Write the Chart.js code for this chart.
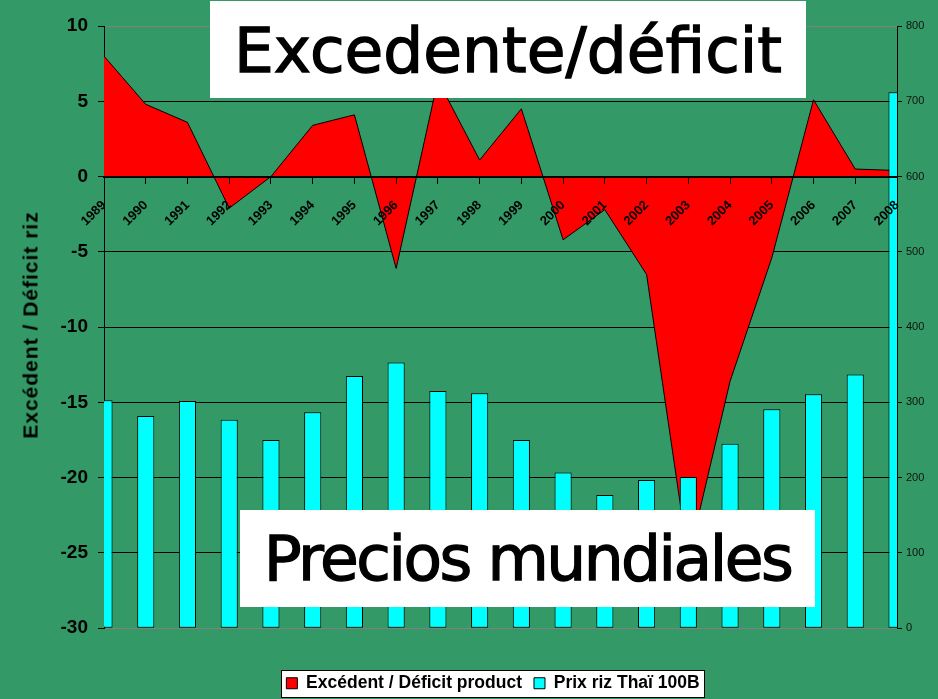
<!DOCTYPE html>
<html>
<head>
<meta charset="utf-8">
<script src="https://cdn.jsdelivr.net/npm/chart.js@4.4.1/dist/chart.umd.min.js"></script>
<style>
    html, body { margin: 0; padding: 0; background: #339966; }
    #wrap { position: relative; width: 938px; height: 699px; overflow: hidden; }
    #rice-chart { position: absolute; left: 0; top: 0; }
    .banner {
        position: absolute;
        background: #fff;
        display: flex;
        align-items: center;
        justify-content: center;
        font-family: "DejaVu Sans", sans-serif;
        font-size: 63px;
        line-height: 1;
        color: #000;
        -webkit-text-stroke: 1.3px #000;
        white-space: nowrap;
    }
    #banner-top { left: 210px; top: 1px; width: 596px; height: 97px; padding-top: 1px; box-sizing: border-box; }
    #banner-bottom { left: 240px; top: 510px; width: 575px; height: 97px; letter-spacing: -2.5px; }
    #y-title {
        position: absolute;
        left: 29.5px;
        top: 325px;
        transform: translate(-50%, -50%) rotate(-90deg);
        font-family: Arial, "Liberation Sans", sans-serif;
        font-weight: bold;
        font-size: 21px;
        line-height: 1;
        letter-spacing: 1px;
        color: #000;
        white-space: nowrap;
    }
</style>
</head>
<body>
<div id="wrap">
    <canvas id="rice-chart" width="938" height="699"></canvas>
    <div id="y-title">Excédent / Déficit riz</div>
    <div class="banner" id="banner-top">Excedente/déficit</div>
    <div class="banner" id="banner-bottom">Precios mundiales</div>
</div>
<script>
const years = ['1989', '1990', '1991', '1992', '1993', '1994', '1995', '1996', '1997', '1998',
    '1999', '2000', '2001', '2002', '2003', '2004', '2005', '2006', '2007', '2008'];

// excédent / déficit (axe gauche)
const surplusDeficit = [8.0, 4.8, 3.6, -2.1, 0.0, 3.4, 4.1, -6.1, 6.4, 1.1,
    4.5, -4.2, -2.2, -6.5, -25.4, -13.6, -5.4, 5.1, 0.5, 0.4];

// prix riz thaï (axe droit)
const thaiRicePrice = [303, 282, 302, 277, 250, 287, 335, 353, 315, 312,
    250, 207, 177, 197, 201, 245, 291, 311, 337, 712];

const leftAxisRange = [-30, 10];
const leftAxisStep = 5;
const rightAxisRange = [0, 800];
const rightAxisStep = 100;

const seriesNames = ['Excédent / Déficit product', 'Prix riz Thaï 100B'];

Chart.defaults.font.family = 'Arial, "Liberation Sans", sans-serif';
Chart.defaults.color = '#000';

const legendFrame = {
    id: 'legendFrame',
    beforeDraw(chart) {
        const boxes = chart.legend.legendHitBoxes;
        if (!boxes || !boxes.length) return;
        const first = boxes[0];
        const last = boxes[boxes.length - 1];
        const x0 = Math.round(first.left - 5) + 0.5;
        const x1 = Math.round(last.left + last.width + 4) + 0.5;
        const y0 = Math.round(first.top - 5) + 0.5;
        const y1 = Math.round(first.top + first.height + 5) + 0.5;
        const ctx = chart.ctx;
        ctx.save();
        ctx.fillStyle = '#fff';
        ctx.fillRect(x0, y0, x1 - x0, y1 - y0);
        ctx.strokeStyle = '#000';
        ctx.lineWidth = 1;
        ctx.strokeRect(x0, y0, x1 - x0, y1 - y0);
        ctx.restore();
    }
};

const ctx = document.getElementById('rice-chart').getContext('2d');

const riceChart = new Chart(ctx, {
    type: 'bar',
    data: {
        labels: years,
        datasets: [{
            type: 'line',
            label: seriesNames[0],
            data: surplusDeficit,
            yAxisID: 'y',
            order: 1,
            fill: 'origin',
            backgroundColor: '#ff0000',
            borderColor: '#000',
            borderWidth: 1,
            tension: 0,
            pointRadius: 0
        }, {
            type: 'bar',
            label: seriesNames[1],
            data: thaiRicePrice,
            yAxisID: 'y1',
            order: 0,
            backgroundColor: '#00ffff',
            borderColor: '#000',
            borderWidth: 1,
            borderSkipped: false,
            categoryPercentage: 1,
            barPercentage: 0.41,
            clip: 0
        }]
    },
    options: {
        responsive: false,
        animation: false,
        layout: {
            padding: { top: 26, left: 48, right: 0, bottom: -3 }
        },
        scales: {
            x: {
                type: 'category',
                position: { y: 0 },
                offset: false,
                grid: {
                    offset: false,
                    drawOnChartArea: false,
                    drawTicks: true,
                    tickLength: 6,
                    color: '#000',
                    z: 1
                },
                border: { display: true, color: '#000', width: 2, z: 1 },
                ticks: {
                    autoSkip: false,
                    minRotation: 45,
                    maxRotation: 45,
                    padding: 15,
                    color: '#000',
                    font: { size: 13, weight: 'bold' },
                    z: 1
                }
            },
            y: {
                position: 'left',
                min: leftAxisRange[0],
                max: leftAxisRange[1],
                afterFit(scale) { scale.width = 56; },
                grid: {
                    color: (c) => (c.tick && (c.tick.value === leftAxisRange[0] || c.tick.value === leftAxisRange[1])) ? '#808080' : '#000',
                    tickColor: '#000',
                    tickLength: 6,
                    lineWidth: 1
                },
                border: { display: true, color: '#000', width: 1 },
                ticks: {
                    stepSize: leftAxisStep,
                    padding: 10,
                    color: '#000',
                    font: { size: 19, weight: 'bold' }
                }
            },
            y1: {
                position: 'right',
                min: rightAxisRange[0],
                max: rightAxisRange[1],
                afterFit(scale) { scale.width = 41; },
                grid: {
                    drawOnChartArea: false,
                    tickLength: 5,
                    color: '#000'
                },
                border: { display: true, color: '#000', width: 1 },
                ticks: {
                    stepSize: rightAxisStep,
                    padding: 4,
                    color: '#111',
                    font: { size: 11 }
                }
            }
        },
        plugins: {
            legend: {
                position: 'bottom',
                title: {
                    display: true,
                    text: '',
                    font: { size: 10, lineHeight: 1 },
                    padding: { top: 24.25, bottom: 0 }
                },
                labels: {
                    boxWidth: 11,
                    boxHeight: 11,
                    padding: 12,
                    color: '#000',
                    font: { size: 17.5, weight: 'bold' },
                    sort: (a, b) => a.datasetIndex - b.datasetIndex
                }
            },
            tooltip: { enabled: false }
        }
    },
    plugins: [legendFrame]
});
</script>
</body>
</html>
